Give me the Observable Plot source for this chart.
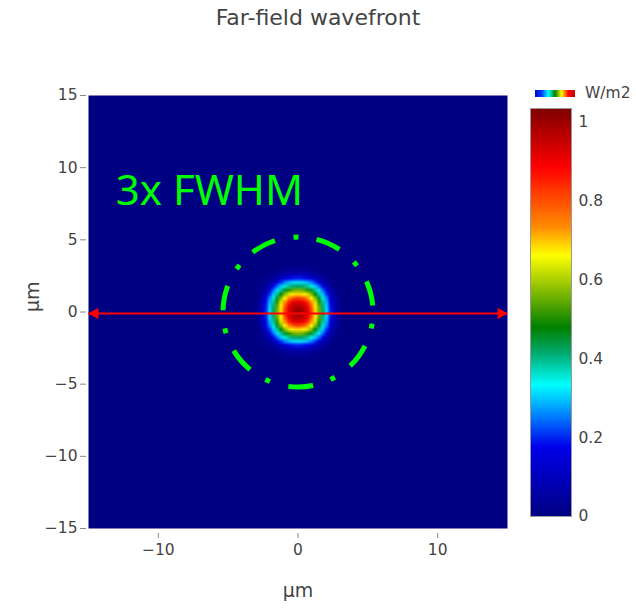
<!DOCTYPE html>
<html>
<head>
<meta charset="utf-8">
<script src="https://cdn.jsdelivr.net/npm/d3@7"></script>
<script src="https://cdn.jsdelivr.net/npm/@observablehq/plot@0.6"></script>
<style>
  body { margin: 0; background: #fff; font-family: "DejaVu Sans", Verdana, sans-serif; }
  #wrap { position: relative; width: 636px; height: 610px; overflow: hidden; }
  #title { position: absolute; left: 0; top: 5px; width: 636px; text-align: center; font-size: 22px; line-height: 26px; color: #444; }
  #main { position: absolute; left: 0; top: 40px; }
  #cbar { position: absolute; left: 510px; top: 100px; }
  #leg { position: absolute; left: 535px; top: 83px; height: 20px; display: flex; align-items: center; font-size: 15.5px; color: #444; }
  #leg .sw { width: 40px; height: 7px; margin-right: 10px; }
</style>
</head>
<body>
<div id="wrap">
  <div id="title"></div>
  <div id="main"></div>
  <div id="leg"><div class="sw"></div><span class="lt"></span></div>
  <div id="cbar"></div>
</div>
<script>
// ---- chart values ----
const titleText = "Far-field wavefront";
const axisUnit = "μm";
const colorUnit = "W/m2";
const xTicks = [-10, 0, 10];
const yTicks = [-15, -10, -5, 0, 5, 10, 15];
const colorbarTicks = [0, 0.2, 0.4, 0.6, 0.8, 1];
const colorMax = 1.035;
// radial intensity profile of the far-field spot (radius in μm, intensity in W/m2)
const profileRadius    = [0,    0.3,  0.6,  0.85, 1.07, 1.3,  1.47, 1.65, 1.8,  2.0,  2.2,  2.35, 2.55, 2.8,  3.1,  3.5, 22];
const profileIntensity = [1.03, 0.99, 0.94, 0.88, 0.75, 0.66, 0.58, 0.48, 0.41, 0.33, 0.25, 0.18, 0.10, 0.04, 0.01, 0,   0];
// annotations
const spotCenter = [{x: 0, y: 0}];
const arrowY = -0.1;
const arrowEnds = [-15, 15];
const noteText = "3x FWHM";
const notePos = [{x: -13.05, y: 7.4}];
// colour scale stops (value -> colour)
const colorStops  = [0, 0.177, 0.245, 0.334, 0.415, 0.48, 0.57, 0.663, 0.734, 0.886, 1.035];
const colorRange  = ["rgb(0,0,131)", "rgb(0,0,235)", "rgb(0,110,255)", "rgb(0,255,255)", "rgb(0,170,110)", "rgb(0,128,0)", "rgb(130,185,0)", "rgb(255,255,0)", "rgb(255,140,0)", "rgb(255,0,0)", "rgb(128,0,0)"];

// ---- helpers ----
const profile = d3.scaleLinear().domain(profileRadius).range(profileIntensity).clamp(true);
const shapeP = 2.3; // slightly square-ish spot
const intensityAt = (x, y) => profile(Math.pow(Math.pow(Math.abs(x), shapeP) + Math.pow(Math.abs(y), shapeP), 1 / shapeP));
const colorScale = {type: "linear", domain: colorStops, range: colorRange, interpolate: "rgb"};
const font = "DejaVu Sans, Verdana, sans-serif";

document.getElementById("title").textContent = titleText;
document.querySelector("#leg .lt").textContent = colorUnit;
document.querySelector("#leg .sw").style.background =
  "linear-gradient(to right, rgb(0,0,200), rgb(0,60,255), rgb(0,255,255), rgb(0,128,0), rgb(255,255,0), rgb(255,0,0), rgb(200,0,0))";

const main = Plot.plot({
  width: 636, height: 570,
  marginTop: 55, marginBottom: 82, marginLeft: 88, marginRight: 129,
  style: {fontFamily: font, fontSize: "15.5px", color: "#444", background: "white", overflow: "visible"},
  x: {domain: [-15, 15]},
  y: {domain: [-15, 15]},
  color: colorScale,
  marks: [
    Plot.raster({fill: intensityAt, x1: -15, x2: 15, y1: -15, y2: 15, width: 110, height: 110}),
    Plot.axisX({ticks: xTicks, tickSize: 5, tickPadding: 5, dy: 5, stroke: "#888", label: null}),
    Plot.axisY({ticks: yTicks, tickSize: 6, tickPadding: 3, dx: -2, stroke: "#888", label: null}),
    Plot.text([axisUnit], {frameAnchor: "bottom", dy: 68, fontSize: 19, fill: "#444"}),
    Plot.text([axisUnit], {frameAnchor: "left", dx: -56, rotate: -90, fontSize: 19, fill: "#444"}),
    Plot.text(notePos, {x: "x", y: "y", text: () => noteText, textAnchor: "start", lineAnchor: "bottom", fontSize: 42, fontFamily: "Noto Sans, Open Sans, sans-serif", fill: "#00ff00"}),
    Plot.dot(spotCenter, {x: "x", y: "y", r: 75, fill: "none", stroke: "#00ff00", strokeWidth: 5, strokeDasharray: "25,19,5,18.32", strokeDashoffset: 32.3}),
    Plot.ruleY([arrowY], {x1: arrowEnds[0], x2: arrowEnds[1], stroke: "#ff0000", strokeWidth: 2}),
    Plot.dot([arrowEnds[0]], {x: d => d, y: () => arrowY, symbol: "triangle2", r: 5.5, rotate: -90, dx: 6.6, fill: "#ff0000", stroke: "none"}),
    Plot.dot([arrowEnds[1]], {x: d => d, y: () => arrowY, symbol: "triangle2", r: 5.5, rotate: 90, dx: -6.6, fill: "#ff0000", stroke: "none"})
  ]
});
document.getElementById("main").append(main);

const cbar = Plot.plot({
  width: 126, height: 426,
  marginTop: 8, marginBottom: 10, marginLeft: 20, marginRight: 65,
  style: {fontFamily: font, fontSize: "15.5px", color: "#444", background: "transparent", overflow: "visible"},
  x: {domain: [0, 1], axis: null},
  y: {domain: [0, colorMax]},
  color: colorScale,
  marks: [
    Plot.raster({fill: (x, y) => y, x1: 0, x2: 1, y1: 0, y2: colorMax, width: 1, height: 408}),
    Plot.frame({stroke: "#999"}),
    Plot.axisY({anchor: "right", ticks: colorbarTicks, tickSize: 0, tickPadding: 7, tickFormat: d3.format("~g"), label: null})
  ]
});
document.getElementById("cbar").append(cbar);
</script>
</body>
</html>
